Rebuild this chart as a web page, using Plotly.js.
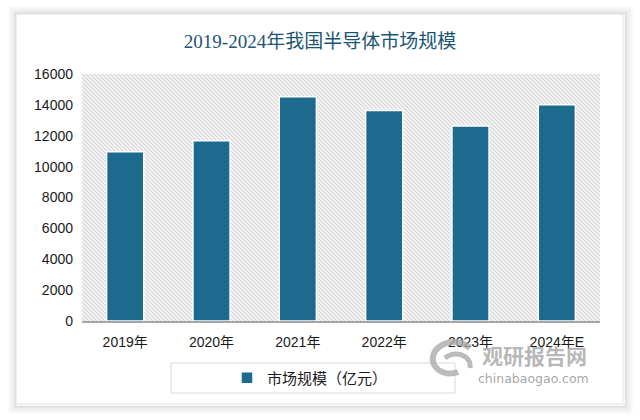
<!DOCTYPE html>
<html>
<head>
<meta charset="utf-8">
<script src="https://cdn.plot.ly/plotly-3.0.1.min.js"></script>
<style>html,body{margin:0;padding:0;background:#fff;}#chart{width:640px;height:420px;}</style>
</head>
<body>
<div id="chart"></div>
<script>
const categories = ["2019年", "2020年", "2021年", "2022年", "2023年", "2024年E"];
const marketSize = [10960, 11680, 14530, 13630, 12630, 14010];
const yTicks = [0, 2000, 4000, 6000, 8000, 10000, 12000, 14000, 16000];
const seriesName = "市场规模（亿元）";
const chartTitle = "2019-2024年我国半导体市场规模";

// plot area in px: x 82..600, y 74..321
const L = 82, R = 600, T = 74, B = 321;
const px = v => (v - L) / (R - L);
const py = v => (B - v) / (B - T);

const hatch = 'data:image/svg+xml;charset=utf-8,' + encodeURIComponent(
  '<svg xmlns="http://www.w3.org/2000/svg" width="518" height="247" viewBox="0 0 518 247" preserveAspectRatio="none">' +
  '<defs><pattern id="p" width="4" height="4" patternUnits="userSpaceOnUse">' +
  '<rect width="4" height="4" fill="#f7f7f7"/>' +
  '<path d="M-1,-1 L5,5 M-1,3 L1,5 M3,-1 L5,1" stroke="#d4d4d4" stroke-width="1.1"/>' +
  '</pattern></defs><rect width="518" height="247" fill="url(#p)"/></svg>');

const shapes = [];
// card shadow (outlines only, so nothing covers the plot background)
const shadow = [[7, 0.03, 3], [5, 0.05, 2], [3, 0.08, 2], [1.5, 0.12, 1.5]];
shadow.forEach(([d, o, w]) => {
  shapes.push({type: 'rect', xref: 'paper', yref: 'paper', layer: 'below',
    x0: px(16 - d + 1), x1: px(623 + d + 1), y0: py(404 + d + 1), y1: py(14 - d + 1),
    line: {width: w, color: 'rgba(0,0,0,' + o + ')'}, fillcolor: 'rgba(0,0,0,0)'});
});
shapes.push({type: 'rect', xref: 'paper', yref: 'paper', layer: 'below',
  x0: px(16), x1: px(623), y0: py(404), y1: py(14),
  line: {width: 1, color: '#e3e3e3'}, fillcolor: 'rgba(0,0,0,0)'});
// legend box
shapes.push({type: 'rect', xref: 'paper', yref: 'paper', layer: 'above',
  x0: px(171), x1: px(455), y0: py(393), y1: py(363),
  line: {width: 1, color: '#d9d9d9'}, fillcolor: 'rgba(0,0,0,0)'});
// watermark swirl
shapes.push({type: 'path', xref: 'paper', yref: 'paper', layer: 'above',
  path: `M ${px(470)},${py(348)} C ${px(455)},${py(335)} ${px(430)},${py(345)} ${px(433)},${py(362)} C ${px(436)},${py(372)} ${px(448)},${py(376)} ${px(458)},${py(372)}`,
  line: {color: 'rgba(170,170,170,0.8)', width: 6}});
shapes.push({type: 'path', xref: 'paper', yref: 'paper', layer: 'above',
  path: `M ${px(445)},${py(358)} C ${px(455)},${py(350)} ${px(472)},${py(355)} ${px(470)},${py(368)}`,
  line: {color: 'rgba(170,170,170,0.8)', width: 5}});

const trace = {
  type: 'bar',
  x: categories,
  y: marketSize,
  name: seriesName,
  marker: {color: '#1c6a8e', line: {color: '#ffffff', width: 1.5}},
  hoverinfo: 'x+y'
};

const layout = {
  width: 640, height: 420,
  margin: {l: L, r: 640 - R, t: T, b: 420 - B, pad: 0},
  paper_bgcolor: '#ffffff',
  plot_bgcolor: 'rgba(0,0,0,0)',
  bargap: 0.57,
  title: {text: chartTitle, x: 0.5, xanchor: 'center', y: 1 - 41 / 420, yanchor: 'middle',
    font: {family: 'Liberation Serif, Noto Sans CJK SC, serif', size: 19, color: '#1b5673'}},
  xaxis: {
    type: 'category',
    showgrid: false, zeroline: false,
    showline: true, linecolor: '#a6a6a6', linewidth: 1.5,
    ticks: '', ticklen: 0, ticklabelstandoff: 8,
    tickfont: {family: 'Liberation Sans, Noto Sans CJK SC, sans-serif', size: 14, color: '#1a1a1a'},
    automargin: false
  },
  yaxis: {
    range: [0, 16000],
    tickvals: yTicks,
    ticktext: yTicks.map(String),
    showgrid: false, zeroline: false, showline: false,
    ticks: '', ticklabelstandoff: 8,
    tickfont: {family: 'Liberation Sans, Noto Sans CJK SC, sans-serif', size: 14, color: '#1a1a1a'},
    automargin: false
  },
  showlegend: true,
  legend: {
    orientation: 'h', x: px(310), y: py(378), xanchor: 'center', yanchor: 'middle',
    bgcolor: 'rgba(0,0,0,0)', borderwidth: 0,
    font: {family: 'Noto Sans CJK SC, sans-serif', size: 15, color: '#1a1a1a'},
    itemwidth: 30
  },
  images: [{
    source: hatch, xref: 'paper', yref: 'paper', x: 0, y: 1, sizex: 1, sizey: 1,
    sizing: 'stretch', xanchor: 'left', yanchor: 'top', layer: 'below'
  }],
  shapes: shapes,
  annotations: [
    {text: '<b>观研报告网</b>', xref: 'paper', yref: 'paper', x: px(534), y: py(355),
      xanchor: 'center', yanchor: 'middle', showarrow: false,
      font: {family: 'Noto Sans CJK SC, sans-serif', size: 21, color: 'rgba(160,160,160,0.75)'}},
    {text: 'chinabaogao.com', xref: 'paper', yref: 'paper', x: px(533), y: py(378),
      xanchor: 'center', yanchor: 'middle', showarrow: false,
      font: {family: 'DejaVu Sans, sans-serif', size: 12.5, color: 'rgba(150,150,150,0.85)'}}
  ]
};

Plotly.newPlot('chart', [trace], layout, {displayModeBar: false, staticPlot: true});
</script>
</body>
</html>
